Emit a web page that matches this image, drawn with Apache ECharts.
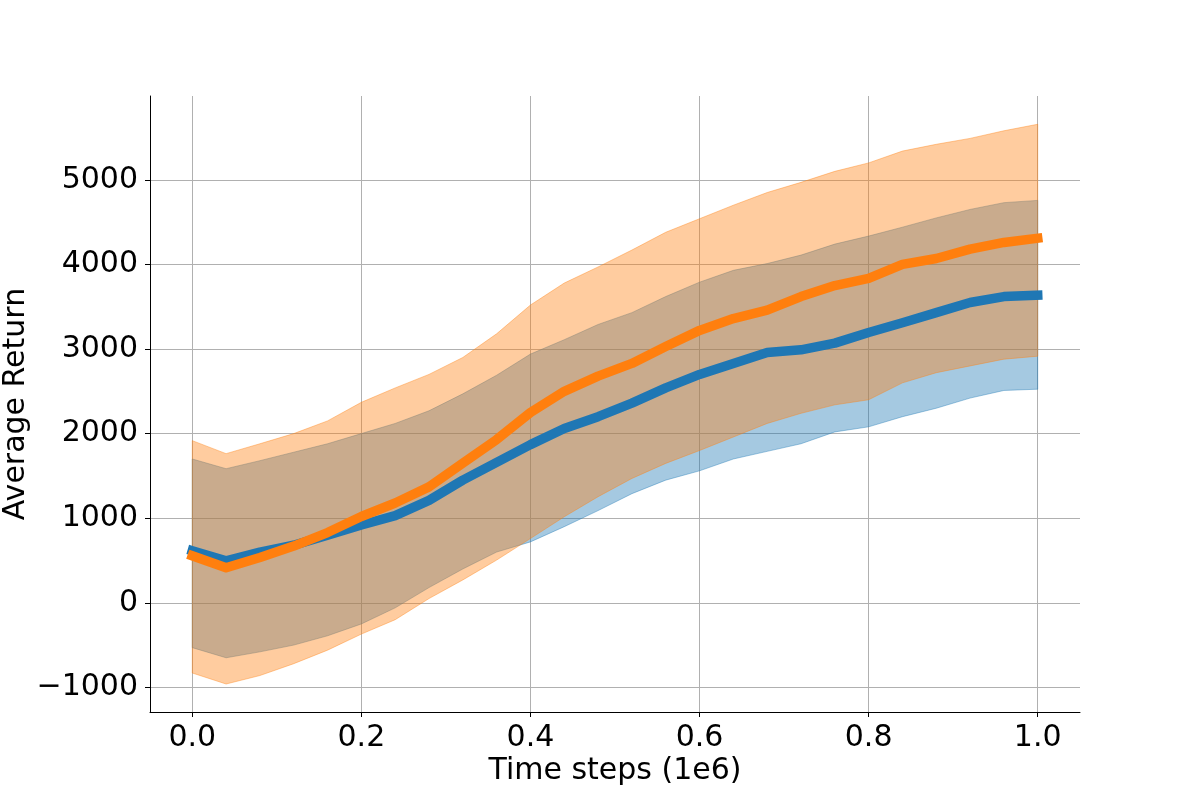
<!DOCTYPE html>
<html>
<head>
<meta charset="utf-8">
<script src="https://cdn.jsdelivr.net/npm/echarts@6/dist/echarts.min.js"></script>
<style>
  html, body { margin: 0; padding: 0; background: #fff; }
  #chart { width: 1200px; height: 800px; }
</style>
</head>
<body>
<div id="chart"></div>
<script>
// time steps (1e6)
const steps = [0, 0.04, 0.08, 0.12, 0.16, 0.20, 0.24, 0.28, 0.32, 0.36, 0.40, 0.44, 0.48,
  0.52, 0.56, 0.60, 0.64, 0.68, 0.72, 0.76, 0.80, 0.84, 0.88, 0.92, 0.96, 1.0];

// blue run
const blueMean = [615, 497, 600, 680, 800, 920, 1030, 1210, 1450, 1660, 1870, 2060, 2200,
  2360, 2540, 2700, 2830, 2960, 2990, 3070, 3195, 3310, 3430, 3550, 3620, 3635];
const blueUpper = [1700, 1585, 1680, 1780, 1880, 2000, 2120, 2270, 2470, 2690, 2940, 3110, 3290,
  3430, 3620, 3790, 3930, 4010, 4110, 4240, 4335, 4440, 4550, 4650, 4730, 4757];
const blueLower = [-530, -650, -580, -500, -390, -250, -60, 180, 400, 600, 720, 900, 1090,
  1290, 1450, 1560, 1700, 1790, 1880, 2020, 2080, 2200, 2300, 2420, 2510, 2525];

// orange run
const orangeMean = [556, 414, 536, 670, 830, 1020, 1180, 1370, 1650, 1930, 2250, 2500, 2680,
  2830, 3030, 3220, 3360, 3460, 3620, 3750, 3834, 4000, 4070, 4180, 4260, 4310];
const orangeUpper = [1917, 1763, 1880, 2000, 2150, 2370, 2540, 2700, 2900, 3180, 3520, 3780, 3970,
  4170, 4380, 4540, 4700, 4850, 4970, 5100, 5200, 5340, 5420, 5490, 5580, 5657];
const orangeLower = [-830, -960, -860, -720, -560, -370, -200, 50, 270, 505, 760, 1017, 1254,
  1470, 1648, 1800, 1960, 2120, 2240, 2340, 2400, 2600, 2720, 2800, 2880, 2915];

// tick labels
const xTicks = [0, 0.2, 0.4, 0.6, 0.8, 1.0];
const yTicks = [-1000, 0, 1000, 2000, 3000, 4000, 5000];

const FONT = 'DejaVu Sans';
const chart = echarts.init(document.getElementById('chart'));

// fill_between as a single polygon: upper edge forward, lower edge back
function bandSeries(name, lower, upper, fill, edge) {
  return {
    name: name,
    type: 'custom',
    silent: true,
    data: steps.map((x, i) => [x, lower[i], upper[i]]),
    encode: { x: 0, y: [1, 2] },
    renderItem: function (params, api) {
      if (params.dataIndex !== 0) return null;
      const n = params.dataInsideLength;
      const pts = [];
      for (let i = 0; i < n; i++) pts.push(api.coord([api.value(0, i), api.value(2, i)]));
      for (let i = n - 1; i >= 0; i--) pts.push(api.coord([api.value(0, i), api.value(1, i)]));
      return {
        type: 'polygon',
        shape: { points: pts },
        style: { fill: fill, stroke: edge, lineWidth: 1 }
      };
    }
  };
}

function meanSeries(name, values, color) {
  return {
    name: name,
    type: 'line',
    data: steps.map((x, i) => [x, values[i]]),
    symbol: 'none',
    lineStyle: { color: color, width: 9.5, cap: 'square', join: 'round' },
    z: 5
  };
}

const axisText = { fontFamily: FONT, fontSize: 30, color: '#000' };

chart.setOption({
  animation: false,
  backgroundColor: '#fff',
  grid: { left: 150, right: 120, top: 96, bottom: 88, outerBoundsMode: 'none', containLabel: false },
  xAxis: {
    type: 'value',
    min: -0.05,
    max: 1.05,
    name: 'Time steps (1e6)',
    nameLocation: 'middle',
    nameGap: 44,
    nameMoveOverlap: false,
    nameTextStyle: axisText,
    axisLine: { onZero: false, lineStyle: { color: '#000', width: 1 } },
    axisTick: { show: true, length: 5, customValues: xTicks, lineStyle: { color: '#000', width: 1 } },
    axisLabel: Object.assign({ customValues: xTicks, margin: 11, formatter: v => v.toFixed(1) }, axisText),
    splitLine: { show: true, lineStyle: { color: '#b0b0b0', width: 1 } }
  },
  yAxis: {
    type: 'value',
    min: -1291,
    max: 5991,
    name: 'Average Return',
    nameLocation: 'middle',
    nameRotate: 90,
    nameGap: 119,
    nameMoveOverlap: false,
    nameTextStyle: axisText,
    axisLine: { show: true, onZero: false, lineStyle: { color: '#000', width: 1 } },
    axisTick: { show: true, length: 5, customValues: yTicks, lineStyle: { color: '#000', width: 1 } },
    axisLabel: Object.assign({
      customValues: yTicks, margin: 12,
      formatter: v => (v < 0 ? '\u2212' + Math.abs(v) : String(v))
    }, axisText),
    splitLine: { show: true, lineStyle: { color: '#b0b0b0', width: 1 } }
  },
  series: [
    bandSeries('blue band', blueLower, blueUpper, 'rgba(31,119,180,0.4)', 'rgba(31,119,180,0.4)'),
    bandSeries('orange band', orangeLower, orangeUpper, 'rgba(255,127,14,0.4)', 'rgba(255,127,14,0.4)'),
    meanSeries('blue', blueMean, '#1f77b4'),
    meanSeries('orange', orangeMean, '#ff7f0e')
  ]
});
</script>
</body>
</html>
